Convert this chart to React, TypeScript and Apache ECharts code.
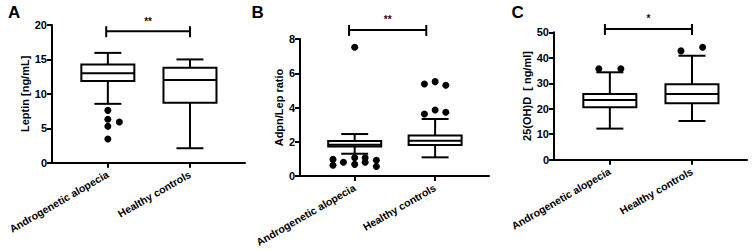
import React, { useEffect, useRef } from 'react';
import * as echarts from 'echarts';

const categories = ['Androgenetic alopecia', 'Healthy controls'];
const groupX = [1, 2];

// Each box: [min (lower whisker), Q1, median, Q3, max (upper whisker)]
const leptinBoxes = [
  [8.55, 11.87, 13.0, 14.25, 15.95],
  [2.1, 8.7, 12.0, 13.8, 15.0],
];
const leptinOutliers = [[1, 7.6], [1, 6.3], [1, 5.3], [1, 3.45], [1.14, 5.9]];

const ratioBoxes = [
  [1.3, 1.72, 1.83, 2.05, 2.45],
  [1.09, 1.81, 2.06, 2.36, 3.33],
];
const ratioOutliers = [
  [1, 7.52],
  [0.73, 0.97], [0.73, 0.63], [0.86, 0.8], [1, 0.68], [1, 1.07],
  [1.13, 1.07], [1.13, 0.8], [1.27, 0.92], [1.27, 0.56],
  [1.867, 3.62], [2, 3.85], [2.133, 3.72],
  [1.867, 5.37], [2, 5.51], [2.133, 5.3],
];

const vitdBoxes = [
  [12.2, 20.6, 23.4, 25.8, 34.3],
  [15.2, 22.2, 25.8, 29.6, 40.8],
];
const vitdOutliers = [[0.866, 35.7], [1.134, 35.7], [1.866, 42.7], [2.13, 44.1]];

const yMax = [20, 8, 50];
const yInterval = [5, 2, 10];
const yNames = ['Leptin [ng/mL]', 'Adpn/Lep ratio', '25(OH)D  [ ng/ml]'];
const panelLetters = ['A', 'B', 'C'];
// [x start, x end, y level]
const brackets = [[0.98, 2.0, 19.1], [0.93, 1.89, 8.53], [0.94, 2.0, 51.3]];
const significance = ['**', '**', '*'];

const FONT = '"Liberation Sans", Arial, Helvetica, sans-serif';

export default function App() {
  const ref = useRef<HTMLDivElement>(null);

  useEffect(() => {
    if (!ref.current) return;
    const chart = echarts.init(ref.current, null, { renderer: 'svg' });

    const grids = [
      { left: 52, top: 25, width: 193, height: 137.7 },
      { left: 300, top: 39, width: 189, height: 137 },
      { left: 554, top: 32.3, width: 193, height: 127.4 },
    ];
    const nameGaps = [19, 15, 15];
    const letterX = [8, 251.5, 511.5];

    const boxSets = [leptinBoxes, ratioBoxes, vitdBoxes];
    const outlierSets = [leptinOutliers, ratioOutliers, vitdOutliers];

    const lineStyle = { stroke: '#000', lineWidth: 2 };

    const boxRender = (params: any, api: any) => {
      const x = api.value(0);
      const lo = api.coord([x, api.value(1)]);
      const q1 = api.coord([x, api.value(2)]);
      const md = api.coord([x, api.value(3)]);
      const q3 = api.coord([x, api.value(4)]);
      const hi = api.coord([x, api.value(5)]);
      const hw = 26.5;
      const cw = 13.5;
      return {
        type: 'group',
        children: [
          { type: 'line', shape: { x1: hi[0], y1: hi[1], x2: q3[0], y2: q3[1] }, style: lineStyle },
          { type: 'line', shape: { x1: lo[0], y1: lo[1], x2: q1[0], y2: q1[1] }, style: lineStyle },
          { type: 'line', shape: { x1: hi[0] - cw, y1: hi[1], x2: hi[0] + cw, y2: hi[1] }, style: lineStyle },
          { type: 'line', shape: { x1: lo[0] - cw, y1: lo[1], x2: lo[0] + cw, y2: lo[1] }, style: lineStyle },
          {
            type: 'rect',
            shape: { x: q3[0] - hw, y: q3[1], width: hw * 2, height: q1[1] - q3[1] },
            style: { fill: '#fff', stroke: '#000', lineWidth: 2 },
          },
          { type: 'line', shape: { x1: md[0] - hw, y1: md[1], x2: md[0] + hw, y2: md[1] }, style: lineStyle },
        ],
      };
    };

    const xAxis: any[] = [];
    const yAxis: any[] = [];
    const series: any[] = [];
    const graphic: any[] = [];

    for (let i = 0; i < 3; i++) {
      xAxis.push({
        type: 'value',
        gridIndex: i,
        min: 0.32,
        max: 2.67,
        splitLine: { show: false },
        axisLine: { show: true, onZero: false, lineStyle: { color: '#000', width: 2 } },
        axisTick: { show: true, customValues: groupX, length: 5, lineStyle: { color: '#000', width: 2 } },
        axisLabel: {
          customValues: groupX,
          formatter: (v: number) => categories[Math.round(v) - 1] ?? '',
          rotate: 30,
          margin: 11,
          color: '#000',
          fontWeight: 'bold',
          fontSize: 10.5,
          fontFamily: FONT,
        },
      });
      yAxis.push({
        type: 'value',
        gridIndex: i,
        min: 0,
        max: yMax[i],
        interval: yInterval[i],
        name: yNames[i],
        nameLocation: 'middle',
        nameGap: nameGaps[i],
        nameTextStyle: { color: '#000', fontWeight: 'bold', fontSize: 11, fontFamily: FONT },
        splitLine: { show: false },
        axisLine: { show: true, lineStyle: { color: '#000', width: 2 } },
        axisTick: { show: true, length: 5, lineStyle: { color: '#000', width: 2 } },
        axisLabel: { color: '#000', fontWeight: 'bold', fontSize: 11, fontFamily: FONT, margin: 5 },
      });

      series.push({
        type: 'custom',
        xAxisIndex: i,
        yAxisIndex: i,
        renderItem: boxRender,
        encode: { x: 0, y: [1, 2, 3, 4, 5] },
        data: boxSets[i].map((b, k) => [groupX[k], ...b]),
        z: 2,
      });
      series.push({
        type: 'scatter',
        xAxisIndex: i,
        yAxisIndex: i,
        symbol: 'circle',
        symbolSize: 7,
        itemStyle: { color: '#000', opacity: 1 },
        data: outlierSets[i],
        z: 3,
      });
      const sig = significance[i];
      series.push({
        type: 'custom',
        xAxisIndex: i,
        yAxisIndex: i,
        clip: false,
        renderItem: (params: any, api: any) => {
          const a = api.coord([api.value(0), api.value(2)]);
          const b = api.coord([api.value(1), api.value(2)]);
          return {
            type: 'group',
            children: [
              { type: 'line', shape: { x1: a[0], y1: a[1], x2: b[0], y2: b[1] }, style: lineStyle },
              { type: 'line', shape: { x1: a[0], y1: a[1] - 5, x2: a[0], y2: a[1] + 6 }, style: lineStyle },
              { type: 'line', shape: { x1: b[0], y1: b[1] - 5, x2: b[0], y2: b[1] + 6 }, style: lineStyle },
              {
                type: 'text',
                x: (a[0] + b[0]) / 2,
                y: a[1] - 10,
                style: {
                  text: sig,
                  fill: '#111',
                  font: `bold 10px ${FONT}`,
                  align: 'center',
                  verticalAlign: 'middle',
                },
              },
            ],
          };
        },
        encode: { x: [0, 1], y: 2 },
        data: [brackets[i]],
        z: 4,
      });

      graphic.push({
        type: 'text',
        x: letterX[i],
        y: 12.8,
        style: {
          text: panelLetters[i],
          fill: '#000',
          font: `bold 17px ${FONT}`,
          align: 'left',
          verticalAlign: 'middle',
        },
      });
    }

    chart.setOption({
      animation: false,
      backgroundColor: '#fff',
      grid: grids.map((g) => ({ ...g, containLabel: false, outerBoundsMode: 'none' })),
      xAxis,
      yAxis,
      series,
      graphic,
    });

    return () => chart.dispose();
  }, []);

  return (
    <div
      ref={ref}
      style={{ position: 'fixed', left: 0, top: 0, width: 753, height: 251, background: '#fff' }}
    />
  );
}
